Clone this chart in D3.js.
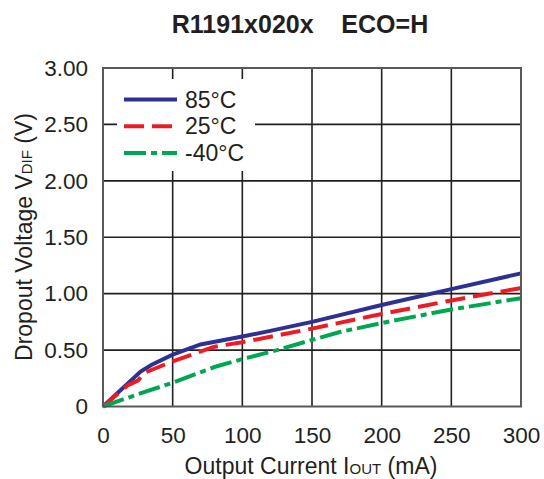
<!DOCTYPE html>
<html>
<head>
<meta charset="utf-8">
<script src="https://cdn.jsdelivr.net/npm/d3@7"></script>
<style>
  body { margin: 0; background: #fff; }
  text { font-family: "Liberation Sans", Arial, sans-serif; fill: #231f20; }
</style>
</head>
<body>
<div id="chart"></div>
<script>
var xTicks = [0, 50, 100, 150, 200, 250, 300]
var yTicks = [0, 0.5, 1.0, 1.5, 2.0, 2.5, 3.0]
var yTickLabels = ["0", "0.50", "1.00", "1.50", "2.00", "2.50", "3.00"]

var seriesNames = ["85°C", "25°C", "-40°C"]

var t85 = [[0, 0], [27, 0.31], [35, 0.37], [50, 0.46], [70, 0.55], [100, 0.62], [120, 0.67],
           [150, 0.75], [200, 0.90], [250, 1.04], [300, 1.18]]
var t25 = [[0, 0], [18, 0.19], [25, 0.23], [30, 0.30], [50, 0.40], [80, 0.53], [100, 0.57],
           [150, 0.69], [200, 0.82], [250, 0.94], [300, 1.05]]
var tm40 = [[0, 0], [30, 0.13], [50, 0.21], [80, 0.35], [100, 0.42], [125, 0.50], [150, 0.59],
            [170, 0.66], [200, 0.74], [250, 0.86], [300, 0.96]]

var width = 544, height = 479
var pLeft = 103, pRight = 521, pTop = 68, pBottom = 406.5

var svg = d3.select("#chart")
    .append("svg")
    .attr("width", width)
    .attr("height", height)

var x = d3.scaleLinear().domain([0, 300]).range([pLeft, pRight])
var y = d3.scaleLinear().domain([0, 3]).range([pBottom, pTop])

// title
svg.append("text")
    .attr("x", 300)
    .attr("y", 33)
    .attr("text-anchor", "middle")
    .style("font-size", "25px")
    .style("font-weight", "bold")
    .attr("xml:space", "preserve")
    .text("R1191x020x    ECO=H")

// grid
svg.append("g")
    .selectAll("line")
    .data(xTicks.slice(1, -1))
    .join("line")
    .attr("x1", d => x(d)).attr("x2", d => x(d))
    .attr("y1", pTop).attr("y2", pBottom)
    .attr("stroke", "#231f20").attr("stroke-width", 1.6)

svg.append("g")
    .selectAll("line")
    .data(yTicks.slice(1, -1))
    .join("line")
    .attr("x1", pLeft).attr("x2", pRight)
    .attr("y1", d => y(d)).attr("y2", d => y(d))
    .attr("stroke", "#231f20").attr("stroke-width", 1.6)

// axes labels via d3 axes, lines hidden
var xAxis = svg.append("g")
    .attr("transform", "translate(0," + pBottom + ")")
    .call(d3.axisBottom(x).tickValues(xTicks).tickSize(0).tickPadding(21))
xAxis.select(".domain").remove()
xAxis.selectAll("text").style("font-size", "22.5px").attr("fill", "#231f20")

var yAxis = svg.append("g")
    .attr("transform", "translate(" + pLeft + ",0)")
    .call(d3.axisLeft(y).tickValues(yTicks).tickSize(0).tickPadding(15)
        .tickFormat((d, i) => yTickLabels[i]))
yAxis.select(".domain").remove()
yAxis.selectAll("text").style("font-size", "22.5px").attr("fill", "#231f20")

// axis titles
var xt = svg.append("text")
    .attr("x", 311)
    .attr("y", 474)
    .attr("text-anchor", "middle")
    .style("font-size", "23px")
xt.append("tspan").text("Output Current I")
xt.append("tspan").style("font-size", "15px").text("OUT")
xt.append("tspan").text(" (mA)")

var yt = svg.append("text")
    .attr("transform", "translate(32,237) rotate(-90)")
    .attr("text-anchor", "middle")
    .style("font-size", "23px")
yt.append("tspan").text("Dropout Voltage V")
yt.append("tspan").style("font-size", "15px").text("DIF")
yt.append("tspan").text(" (V)")

// curves
var line = d3.line().x(d => x(d[0])).y(d => y(d[1]))
var styles = [
  { data: t85, color: "#2e3192", dash: null },
  { data: t25, color: "#ed1c24", dash: "20,8" },
  { data: tm40, color: "#00a651", dash: "22,5,6,5" }
]

svg.append("g")
    .selectAll("path")
    .data(styles)
    .join("path")
    .attr("d", d => line(d.data))
    .attr("fill", "none")
    .attr("stroke", d => d.color)
    .attr("stroke-width", 4)
    .attr("stroke-dasharray", d => d.dash)

// legend
svg.append("rect")
    .attr("x", 117).attr("y", 79)
    .attr("width", 138).attr("height", 92)
    .attr("fill", "#fff")

var leg = svg.append("g")
    .selectAll("g")
    .data(styles)
    .join("g")
    .attr("transform", (d, i) => "translate(0," + (99.5 + i * 26.7) + ")")

leg.append("line")
    .attr("x1", 124).attr("x2", 177)
    .attr("stroke", d => d.color)
    .attr("stroke-width", 4)
    .attr("stroke-dasharray", d => d.dash)

leg.append("text")
    .attr("x", 185)
    .attr("y", 8)
    .style("font-size", "23px")
    .text((d, i) => seriesNames[i])

// frame
svg.append("rect")
    .attr("x", pLeft).attr("y", pTop)
    .attr("width", pRight - pLeft).attr("height", pBottom - pTop)
    .attr("fill", "none")
    .attr("stroke", "#58595b")
    .attr("stroke-width", 2)
</script>
</body>
</html>
